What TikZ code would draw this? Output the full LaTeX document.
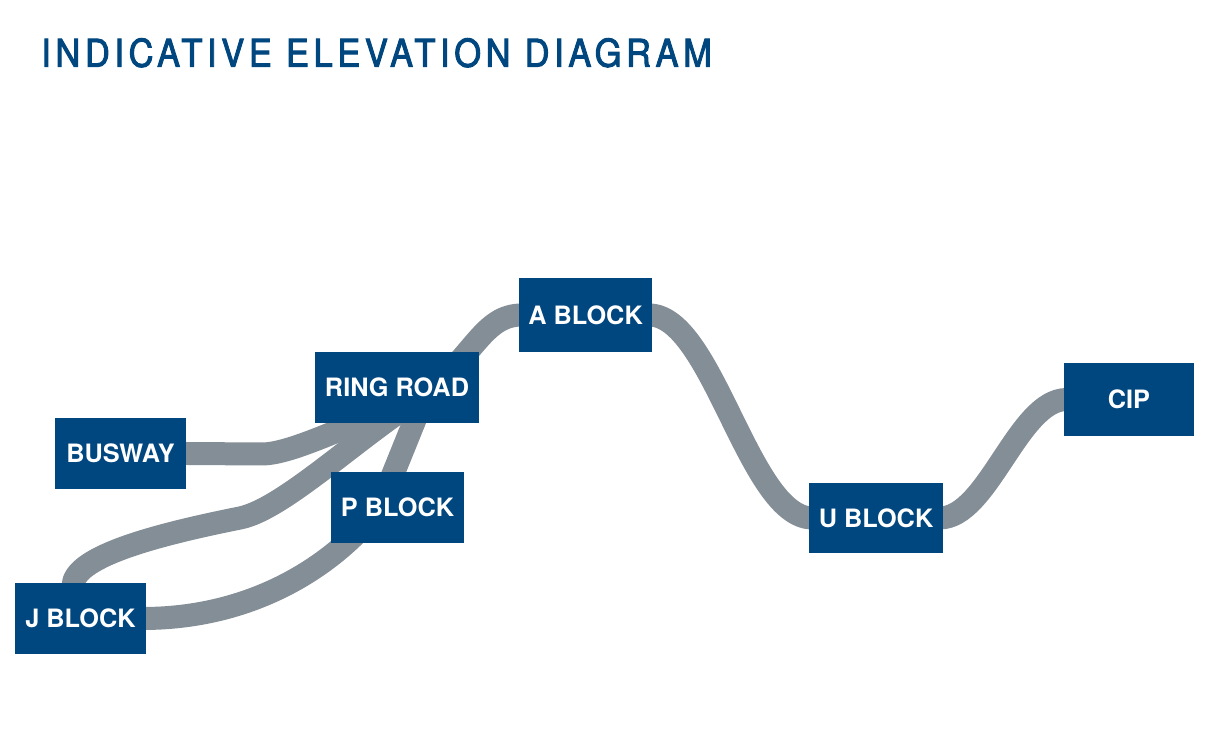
\documentclass[tikz,border=0pt]{standalone}
\usepackage{fontspec}
\setmainfont{TeX Gyre Heros}
\newfontfamily\titlefont[FakeStretch=0.9,FakeBold=2.5,LetterSpace=12.3]{TeX Gyre Heros}
\usetikzlibrary{backgrounds}
\definecolor{blockblue}{RGB}{0,70,127}
\definecolor{roadgray}{RGB}{132,142,150}
\begin{document}
\begin{tikzpicture}[x=0.02cm,y=-0.02cm,
    block/.style={fill=blockblue,text=white,font=\fontsize{14.4}{16}\selectfont\bfseries,
        minimum width=2.62cm,minimum height=1.42cm,inner xsep=0.19cm},
    road/.style={draw=roadgray,line width=0.46cm,line join=round,shorten <=-2pt,shorten >=-2pt}]
    \useasboundingbox (0,0) rectangle (1205,756);
    \node[anchor=base west,inner sep=0,text=blockblue,
        font=\titlefont\fontsize{21.7}{26}\selectfont] (title) at (41,66.7) {INDICATIVE ELEVATION DIAGRAM};
    \node[block] (busway) at (120.5,453.5) {BUSWAY};
    \node[block] (ringroad) at (397,387.5) {RING ROAD};
    \node[block,minimum height=1.48cm] (ablock) at (585.5,315) {A BLOCK};
    \node[block] (pblock) at (397.5,507.5) {P BLOCK};
    \node[block] (jblock) at (80.5,618.5) {J BLOCK};
    \node[block] (ublock) at (876,518) {U BLOCK};
    \node[block,minimum height=1.48cm] (cip) at (1129,399.5) {CIP};
    \coordinate (hub) at (425,395);
    \coordinate (busbend) at (262,454);
    \coordinate (jbend) at (240,518);
    \begin{pgfonlayer}{background}
        \draw[road] (busway.east) -- (busbend) .. controls +(30,0) and +(-75,29) .. (hub);
        \draw[road] ([xshift=-0.15cm]jblock.north) .. controls +(0,-25) and +(-90,18) .. (jbend)
            .. controls +(45,-9) and +(-60,35) .. (hub);
        \draw[road] (jblock.east) .. controls +(100,0) and +(-50,64) .. ([xshift=-0.36cm]pblock.center) -- (hub);
        \draw[road] (hub) .. controls +(50,-40) and +(-35,0) .. (ablock.west);
        \draw[road] (ablock.east) .. controls +(60,0) and +(-60,0) .. (ublock.west);
        \draw[road] (ublock.east) .. controls +(45,0) and +(-45,0) .. (cip.west);
    \end{pgfonlayer}
\end{tikzpicture}
\end{document}
